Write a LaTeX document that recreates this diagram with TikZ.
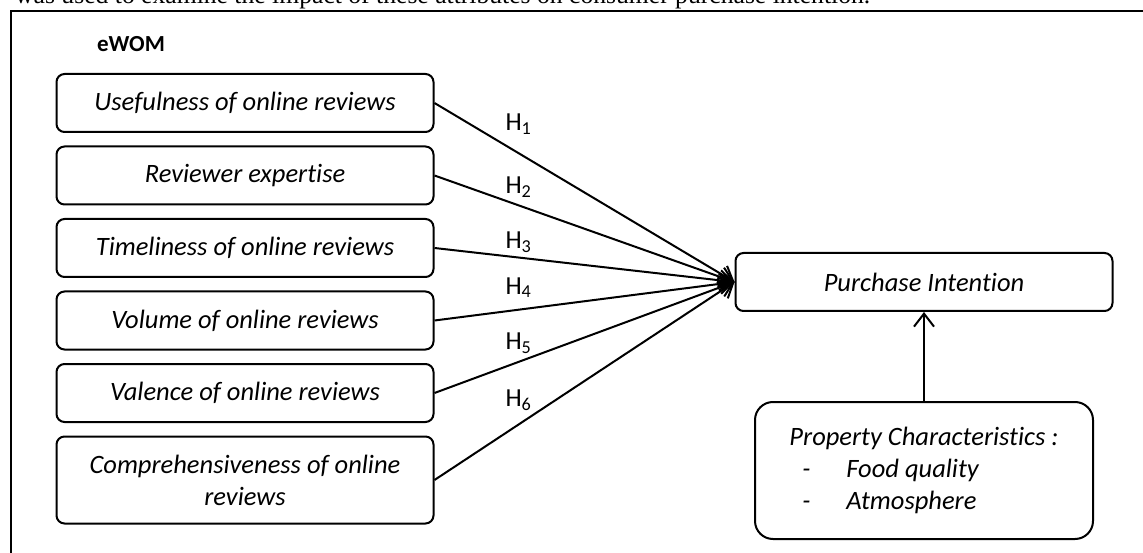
\documentclass[tikz,border=0pt]{standalone}
\usepackage{fontspec}
\setmainfont[Ligatures={NoCommon}]{Carlito}
\newfontfamily\introfont{Liberation Serif}
\usetikzlibrary{arrows.meta,positioning}

\begin{document}
\begin{tikzpicture}[
    x=1pt,y=-1pt,
    node distance=12.5pt,
    box/.style={draw,line width=2pt,rounded corners=8pt,align=center,minimum width=377pt,minimum height=58pt,font=\fontsize{26.5}{32}\selectfont\itshape},
    hlab/.style={font=\fontsize{26}{30}\selectfont,inner sep=0pt},
    arrow/.style={-{Straight Barb[length=13pt,width=20pt]},line width=2pt}
  ]
  \useasboundingbox (0,0) rectangle (1143,553);
  \node[anchor=base west,inner sep=0pt] (intro) at (15,4) {\resizebox{855pt}{!}{\introfont was used to examine the impact of these attributes on consumer purchase intention.}};
  \draw[line width=2pt] (11,570) -- (11,11) -- (1160,11);

  \node[font=\fontsize{23}{27}\selectfont\bfseries] (ewom) at (131,44) {eWOM};

  \node[box] (use) at (245,103) {Usefulness of online reviews};
  \node[box,below=of use] (expert) {Reviewer expertise};
  \node[box,below=of expert] (time) {Timeliness of online reviews};
  \node[box,below=of time] (volume) {Volume of online reviews};
  \node[box,below=of volume] (valence) {Valence of online reviews};
  \node[box,below=of valence,minimum height=87pt] (compre) {Comprehensiveness of online\\reviews};

  \node[box] (purchase) at (924,282) {Purchase Intention};
  \node[box,below=89pt of purchase,minimum width=338pt,minimum height=137pt,rounded corners=18pt,align=left] (prop)
    {Property Characteristics :\\
     \hspace*{13pt}\makebox[44pt][l]{-}Food quality\\
     \hspace*{13pt}\makebox[44pt][l]{-}Atmosphere};

  \draw[arrow] (use.east) -- node[hlab,pos=0.28,yshift=29pt]{H\textsubscript{1}} (purchase.west);
  \draw[arrow] (expert.east) -- node[hlab,pos=0.28,yshift=18pt]{H\textsubscript{2}} (purchase.west);
  \draw[arrow] (time.east) -- node[hlab,pos=0.28,yshift=15pt]{H\textsubscript{3}} (purchase.west);
  \draw[arrow] (volume.east) -- node[hlab,pos=0.28,yshift=22pt]{H\textsubscript{4}} (purchase.west);
  \draw[arrow] (valence.east) -- node[hlab,pos=0.28,yshift=19pt]{H\textsubscript{5}} (purchase.west);
  \draw[arrow] (compre.east) -- node[hlab,pos=0.28,yshift=24pt]{H\textsubscript{6}} (purchase.west);
  \draw[arrow] (prop.north) -- (prop.north |- purchase.south);
\end{tikzpicture}
\end{document}
